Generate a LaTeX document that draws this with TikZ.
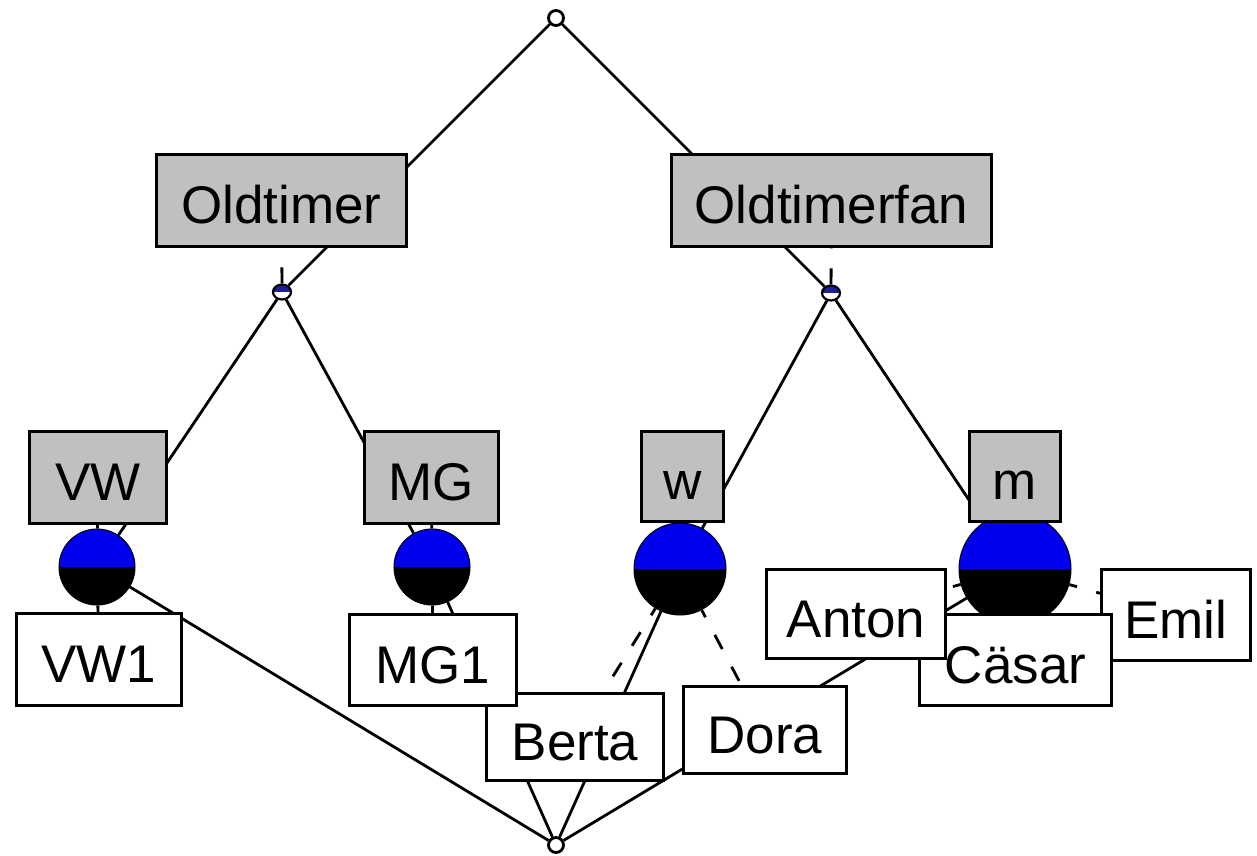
\documentclass[tikz,border=0pt]{standalone}
\usepackage{fontspec}
\setmainfont{Liberation Sans}
\usetikzlibrary{shapes.geometric}
\pgfdeclarelayer{paper}
\pgfdeclarelayer{edges}
\pgfsetlayers{paper,edges,main}

\definecolor{attrgray}{RGB}{192,192,192}
\definecolor{nodeblue}{RGB}{0,0,238}
\definecolor{smallblue}{RGB}{30,30,150}

\begin{document}
\begin{tikzpicture}[x=1pt,y=-1pt,
  edge/.style={line width=2.8pt, black},
  labline/.style={line width=2.8pt, black, dash pattern=on 16pt off 20pt},
  objline/.style={labline, dash phase=8pt},
  lbox/.style={draw=black, line width=3pt, inner sep=0pt, align=center,
    text height=46pt, text depth=0pt, font=\fontsize{53}{60}\selectfont},
  attr/.style={lbox, fill=attrgray},
  obj/.style={lbox, fill=white},
  bigc/.style={circle, draw=black, line width=1pt, minimum size=#1, inner sep=0pt,
    path picture={
      \fill[nodeblue] (path picture bounding box.north west) rectangle (path picture bounding box.east);
      \fill[black] (path picture bounding box.west) rectangle (path picture bounding box.south east);
    }},
  smallc/.style={ellipse, draw=black, line width=2.2pt, minimum width=18pt, minimum height=15pt, inner sep=0pt,
    path picture={
      \fill[smallblue] (path picture bounding box.north west) rectangle (path picture bounding box.east);
      \fill[white] (path picture bounding box.west) rectangle (path picture bounding box.south east);
    }},
  endc/.style={circle, draw=black, line width=2.8pt, fill=white, minimum size=15pt, inner sep=0pt}
]
\begin{pgfonlayer}{paper}
  \fill[white] (0,0) rectangle (1257,855);
\end{pgfonlayer}
\useasboundingbox (0,0) rectangle (1257,855);

% concepts
\node[endc] (top) at (556,18) {};
\node[smallc] (cOld) at (282,292) {};
\node[smallc] (cFan) at (831,293) {};
\node[bigc=76pt] (cVW) at (97,567) {};
\node[bigc=76pt] (cMG) at (432,567) {};
\node[bigc=92pt] (cw) at (680,569) {};
\node[bigc=112pt] (cm) at (1015,569) {};
\node[endc] (bot) at (556,845) {};

% attribute labels
\node[attr, minimum width=250pt, minimum height=92pt] (lOld) at (281.5,200.5) {Oldtimer};
\node[attr, minimum width=320pt, minimum height=92pt] (lFan) at (831.5,200.5) {Oldtimerfan};
\node[attr, minimum width=137pt, minimum height=92pt] (lVW) at (98,477.5) {VW};
\node[attr, minimum width=134pt, minimum height=92pt] (lMG) at (431.5,477) {MG};
\node[attr, minimum width=82pt, minimum height=90pt] (lw) at (682.5,476.5) {w};
\node[attr, minimum width=91pt, minimum height=90pt] (lm) at (1015,476.5) {m};

% object labels
\node[obj, minimum width=165pt, minimum height=92pt] (lVW1) at (99,659.5) {VW1};
\node[obj, minimum width=177pt, minimum height=87pt] (lBerta) at (575,737) {Berta};
\node[obj, minimum width=167pt, minimum height=91pt] (lMG1) at (433,660) {MG1};
\node[obj, minimum width=163pt, minimum height=87pt] (lDora) at (765,730) {Dora};
\node[obj, minimum width=149pt, minimum height=91pt] (lEmil) at (1176,615) {Emil};
\node[obj, minimum width=192pt, minimum height=91pt] (lCasar) at (1015.5,660) {Cäsar};
\node[obj, minimum width=179pt, minimum height=89pt] (lAnton) at (856,614) {Anton};

\begin{pgfonlayer}{edges}
  % lattice lines
  \draw[edge] (top) -- (cOld);
  \draw[edge] (top) -- (cFan);
  \draw[edge] (cOld) -- (cVW);
  \draw[edge] (cOld) -- (cMG);
  \draw[edge] (cFan) -- (cw);
  \draw[edge] (cFan) -- (cm);
  \draw[edge] (cVW) -- (bot);
  \draw[edge] (cMG) -- (bot);
  \draw[edge] (cw) -- (bot);
  \draw[edge] (cm) -- (bot);
  % attribute label connectors
  \draw[labline] (cOld) -- (lOld);
  \draw[labline] (cFan) -- (lFan);
  \draw[labline] (cVW) -- (lVW);
  \draw[labline] (cMG) -- (lMG);
  \draw[labline] (cw) -- (lw);
  \draw[labline] (cm) -- (lm);
  % object label connectors
  \draw[objline] (cVW) -- (lVW1);
  \draw[objline] (cMG) -- (lMG1);
  \draw[objline] (cw) -- (lBerta);
  \draw[objline] (cw) -- (lDora);
  \draw[objline] (cm) -- (lAnton);
  \draw[objline] (cm) -- (lCasar);
  \draw[objline] (cm) -- (lEmil);
\end{pgfonlayer}
\end{tikzpicture}
\end{document}
